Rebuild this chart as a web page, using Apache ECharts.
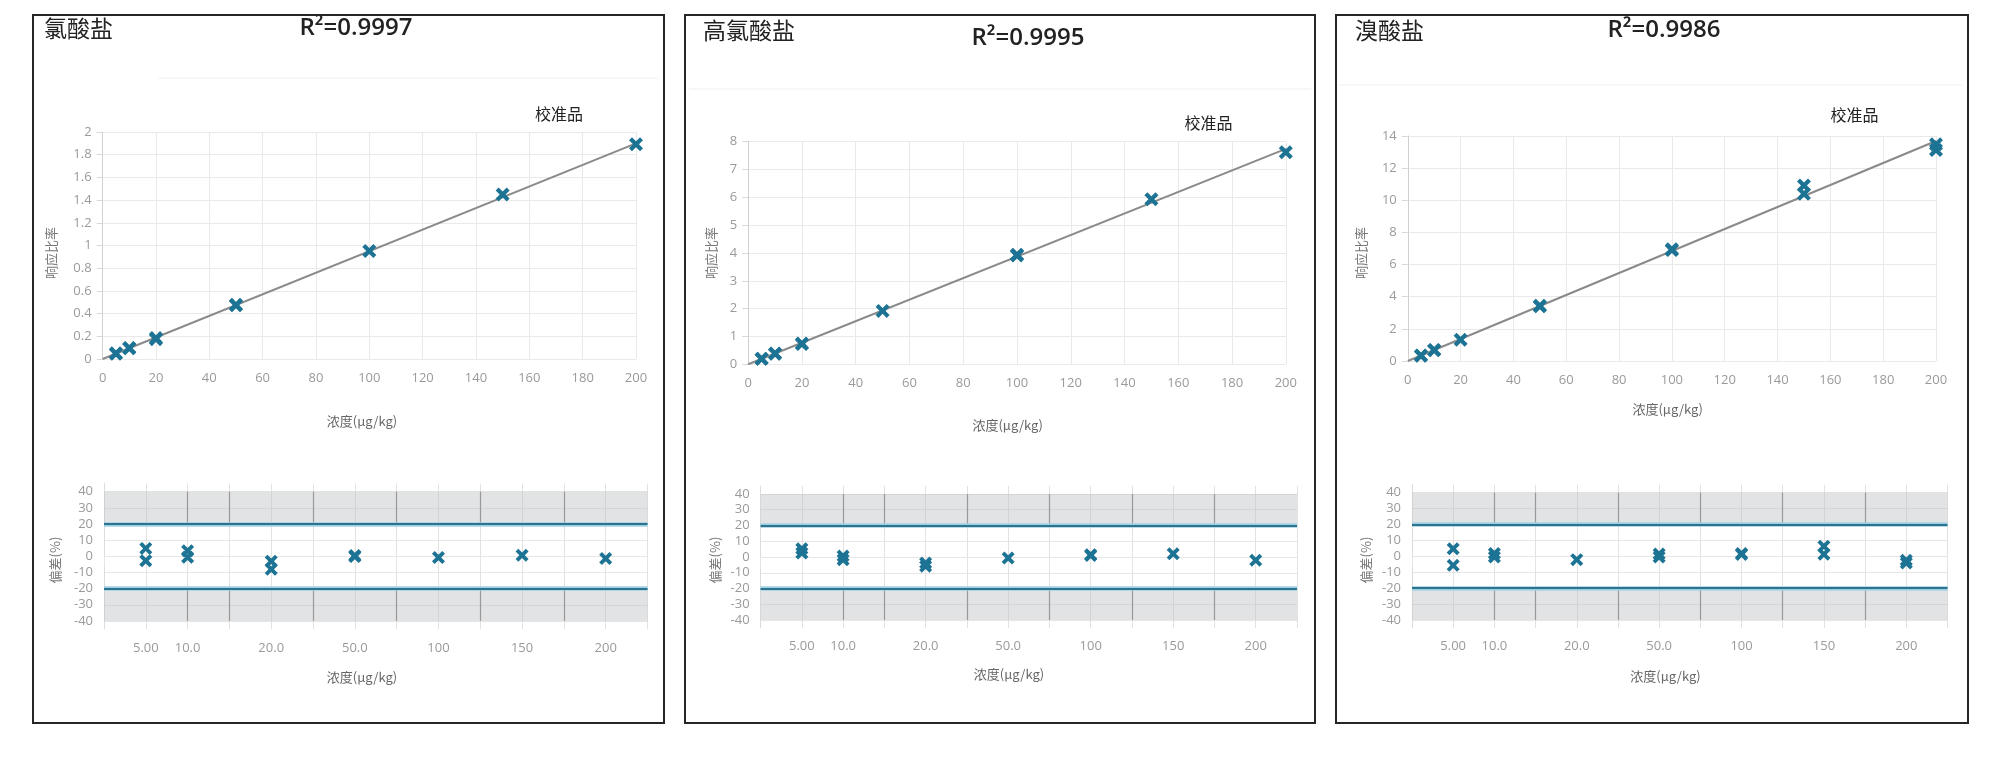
<!DOCTYPE html>
<html><head><meta charset="utf-8">
<script src="https://cdn.jsdelivr.net/npm/echarts@6/dist/echarts.min.js"></script>
<style>html,body{margin:0;padding:0;background:#fff}#c{width:2000px;height:762px}</style>
</head><body><div id="c"></div>
<script>
// ---------------- data ----------------
const concentrations = [5, 10, 20, 50, 100, 150, 200];
const biasPositions = [1, 2, 4, 6, 8, 10, 12];
const biasLabels = ['5.00', '10.0', '20.0', '50.0', '100', '150', '200'];
const bandDividers = [2, 3, 5, 7, 9, 11];

const analyteNames = ['氯酸盐', '高氯酸盐', '溴酸盐'];
const r2Labels = ['R²=0.9997', 'R²=0.9995', 'R²=0.9986'];
const legendLabel = '校准品';
const upperYName = '响应比率';
const lowerYName = '偏差(%)';
const xName = '浓度(μg/kg)';

const upperYMax = [2, 8, 14];
const upperYInterval = [0.2, 1, 2];

// response ratio per concentration (replicates)
const chlorateResponse = [[0.050, 0.046], [0.098, 0.094], [0.184, 0.175], [0.477, 0.474], [0.952], [1.449], [1.892]];
const perchlorateResponse = [[0.200, 0.195], [0.390, 0.380], [0.745, 0.730], [1.920], [3.940, 3.910], [5.930], [7.620]];
const bromateResponse = [[0.350, 0.320], [0.690, 0.670], [1.320], [3.440, 3.400], [6.950, 6.900], [10.92, 10.40], [13.48, 13.13]];

// calibration line: [value at x=0, value at x=200]
const chlorateFit = [0.0, 1.90];
const perchlorateFit = [0.0, 7.74];
const bromateFit = [0.0, 13.69];

// bias (%) per concentration (replicates)
const chlorateBias = [[4.9, -2.7], [3.5, -0.6], [-3.1, -8.0], [0.5, -0.2], [-0.8], [0.6], [-1.4]];
const perchlorateBias = [[5.3, 2.5], [0.6, -1.7], [-3.8, -5.9], [-0.6], [1.5, 1.0], [2.1], [-2.1]];
const bromateBias = [[4.8, -5.7], [1.7, -0.4], [-2.1], [1.5, -0.5], [1.7, 1.2], [6.3, 1.3], [-2.5, -4.2]];

const biasLimits = [20, -20];
const biasBands = [[20, 40], [-40, -20]];

// ---------------- layout ----------------
const layout = [
  {border: [33, 15, 631, 708], upper: {left: 102.6, top: 132, width: 533.4, height: 227},
   lower: {left: 104, top: 483.6, width: 543.5, height: 145.4},
   title: [44, 28], r2: [356, 28], legend: [559, 114], faint: [158, 78, 658],
   uY: [51, 253], uX: [362, 421], lY: [55.5, 560], lX: [362, 677], uM: 13, lM: 13},
  {border: [685, 15, 630, 708], upper: {left: 748.2, top: 141.7, width: 537.6, height: 222.6},
   lower: {left: 760.6, top: 486.1, width: 536.4, height: 141.8},
   title: [703, 30], r2: [1028, 38], legend: [1208.5, 123], faint: [689, 89, 1311],
   uY: [710.6, 253], uX: [1007.6, 425], lY: [715, 560], lX: [1009, 674.5], uM: 12, lM: 12},
  {border: [1336, 15, 632, 708], upper: {left: 1407.8, top: 136, width: 528.2, height: 225},
   lower: {left: 1412, top: 484.7, width: 535.5, height: 143.2},
   title: [1355, 30], r2: [1664, 30], legend: [1854.5, 115], faint: [1338, 85, 1962],
   uY: [1361, 253], uX: [1667.6, 409], lY: [1366, 560], lX: [1665.5, 676], uM: 13, lM: 12}
];

const responses = [chlorateResponse, perchlorateResponse, bromateResponse];
const fits = [chlorateFit, perchlorateFit, bromateFit];
const biases = [chlorateBias, perchlorateBias, bromateBias];

const MARK = '#1d7393';
const XSYM = 'path://M0,2.1L2.1,0L5,2.9L7.9,0L10,2.1L7.1,5L10,7.9L7.9,10L5,7.1L2.1,10L0,7.9L2.9,5Z';
const NUMFONT = '"Open Sans","Liberation Sans",sans-serif';
const CJKFONT = '"Noto Sans CJK SC","Noto Sans",sans-serif';
const GRIDC = '#e9e9e9';
const LABC = '#9a9a9a';

const grids = [], xAxes = [], yAxes = [], series = [], graphics = [];

layout.forEach((L, i) => {
  grids.push(Object.assign({containLabel: false}, L.upper));
  grids.push(Object.assign({containLabel: false}, L.lower));
  const gu = 2 * i, gl = 2 * i + 1;

  xAxes.push({type: 'value', gridIndex: gu, min: 0, max: 200, interval: 20,
    axisLine: {show: false}, axisTick: {show: false},
    axisLabel: {color: LABC, fontSize: 13, fontFamily: NUMFONT, margin: L.uM},
    splitLine: {show: true, lineStyle: {color: GRIDC, width: 1}}});
  yAxes.push({type: 'value', gridIndex: gu, min: 0, max: upperYMax[i], interval: upperYInterval[i],
    axisLine: {show: true, lineStyle: {color: '#d0d0d0', width: 1}},
    axisTick: {show: true, length: 6, lineStyle: {color: '#d8d8d8'}},
    axisLabel: {color: LABC, fontSize: 13, fontFamily: NUMFONT, margin: 11},
    splitLine: {show: true, lineStyle: {color: GRIDC, width: 1}}});

  xAxes.push({type: 'value', gridIndex: gl, min: 0, max: 13, interval: 1,
    axisLine: {show: true, lineStyle: {color: '#e6e6e6', width: 1}},
    axisTick: {show: true, length: 10, lineStyle: {color: '#e6e6e6'}},
    axisLabel: {color: LABC, fontSize: 13, fontFamily: NUMFONT, margin: L.lM,
      formatter: v => { const k = biasPositions.indexOf(Math.round(v)); return k >= 0 ? biasLabels[k] : ''; }},
    splitLine: {show: true, lineStyle: {color: '#e2e2e2', width: 1}}});
  yAxes.push({type: 'value', gridIndex: gl, min: -45, max: 45, interval: 5,
    axisLine: {show: true, lineStyle: {color: '#dcdcdc', width: 1}},
    axisTick: {show: false},
    axisLabel: {color: LABC, fontSize: 13, fontFamily: NUMFONT, margin: 11,
      formatter: v => (Math.round(v) % 10 === 0 && Math.abs(v) <= 40) ? String(Math.round(v)) : ''},
    splitLine: {show: true, lineStyle: {color: ['transparent', '#e6e6e6'], width: 1}}});

  series.push({type: 'line', xAxisIndex: gu, yAxisIndex: gu, z: 2, silent: true,
    data: [[0, fits[i][0]], [200, fits[i][1]]], symbol: 'none',
    lineStyle: {color: '#8a8a8a', width: 2}});
  const up = [];
  responses[i].forEach((reps, k) => reps.forEach(v => up.push([concentrations[k], v])));
  series.push({type: 'scatter', xAxisIndex: gu, yAxisIndex: gu, z: 4, data: up,
    symbol: XSYM, symbolSize: 14, itemStyle: {color: MARK, opacity: 1}});

  series.push({type: 'scatter', xAxisIndex: gl, yAxisIndex: gl, z: 1, data: [], silent: true,
    markArea: {silent: true, itemStyle: {color: 'rgba(190,193,198,0.45)'},
      data: biasBands.map(b => [{yAxis: b[0]}, {yAxis: b[1]}])}});
  const divs = [];
  bandDividers.forEach(d => biasBands.forEach(b => divs.push([{coord: [d, b[0]]}, {coord: [d, b[1]]}])));
  series.push({type: 'scatter', xAxisIndex: gl, yAxisIndex: gl, z: 2, data: [], silent: true,
    markLine: {silent: true, symbol: 'none', label: {show: false}, animation: false,
      lineStyle: {color: '#999999', width: 1.2, type: 'solid'}, data: divs}});
  series.push({type: 'scatter', xAxisIndex: gl, yAxisIndex: gl, z: 3, data: [], silent: true,
    markLine: {silent: true, symbol: 'none', label: {show: false}, animation: false,
      lineStyle: {color: '#9fd0e2', width: 4.5, type: 'solid'}, data: biasLimits.map(v => ({yAxis: v}))}});
  series.push({type: 'scatter', xAxisIndex: gl, yAxisIndex: gl, z: 3, data: [], silent: true,
    markLine: {silent: true, symbol: 'none', label: {show: false}, animation: false,
      lineStyle: {color: '#2d7390', width: 2.2, type: 'solid'}, data: biasLimits.map(v => ({yAxis: v}))}});
  const lp = [];
  biases[i].forEach((reps, k) => reps.forEach(v => lp.push([biasPositions[k], v])));
  series.push({type: 'scatter', xAxisIndex: gl, yAxisIndex: gl, z: 5, data: lp,
    symbol: XSYM, symbolSize: 13, itemStyle: {color: MARK, opacity: 1}});

  graphics.push({type: 'rect', z: 10, silent: true,
    shape: {x: L.border[0], y: L.border[1], width: L.border[2], height: L.border[3]},
    style: {fill: 'none', stroke: '#262626', lineWidth: 2}});
  graphics.push({type: 'line', z: 1, silent: true,
    shape: {x1: L.faint[0], y1: L.faint[1], x2: L.faint[2], y2: L.faint[1]},
    style: {stroke: '#f1f1f1', lineWidth: 1}});
  graphics.push({type: 'text', x: L.title[0], y: L.title[1], silent: true,
    style: {text: analyteNames[i], fontSize: 23, fontFamily: CJKFONT, fill: '#222',
      align: 'left', verticalAlign: 'middle'}});
  graphics.push({type: 'text', x: L.r2[0], y: L.r2[1], silent: true,
    style: {text: r2Labels[i], fontSize: 24, fontWeight: 600, fontFamily: NUMFONT, fill: '#222',
      align: 'center', verticalAlign: 'middle'}});
  graphics.push({type: 'text', x: L.legend[0], y: L.legend[1], silent: true,
    style: {text: legendLabel, fontSize: 16, fontFamily: CJKFONT, fill: '#222',
      align: 'center', verticalAlign: 'middle'}});
  graphics.push({type: 'text', x: L.uY[0], y: L.uY[1], rotation: Math.PI / 2, silent: true,
    style: {text: upperYName, fontSize: 13, fontFamily: CJKFONT, fill: '#777',
      align: 'center', verticalAlign: 'middle'}});
  graphics.push({type: 'text', x: L.uX[0], y: L.uX[1], silent: true,
    style: {text: xName, fontSize: 13, fontFamily: CJKFONT, fill: '#666',
      align: 'center', verticalAlign: 'middle'}});
  graphics.push({type: 'text', x: L.lY[0], y: L.lY[1], rotation: Math.PI / 2, silent: true,
    style: {text: lowerYName, fontSize: 13, fontFamily: CJKFONT, fill: '#777',
      align: 'center', verticalAlign: 'middle'}});
  graphics.push({type: 'text', x: L.lX[0], y: L.lX[1], silent: true,
    style: {text: xName, fontSize: 13, fontFamily: CJKFONT, fill: '#666',
      align: 'center', verticalAlign: 'middle'}});
});

const chart = echarts.init(document.getElementById('c'), null, {renderer: 'canvas', width: 2000, height: 762});
chart.setOption({
  animation: false,
  backgroundColor: '#ffffff',
  grid: grids, xAxis: xAxes, yAxis: yAxes, series: series,
  graphic: graphics
});
</script>
</body></html>
